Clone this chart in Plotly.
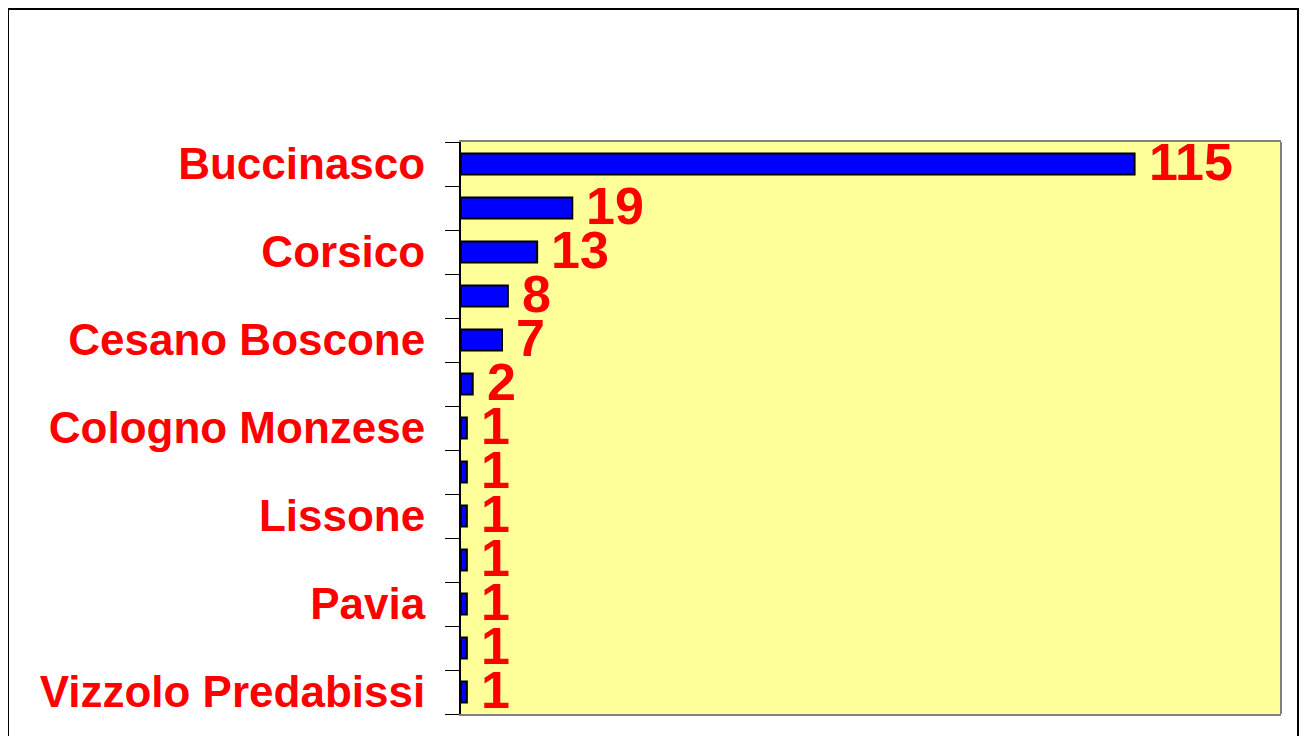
import plotly.graph_objects as go

categories = ["Buccinasco", "", "Corsico", "", "Cesano Boscone", "",
              "Cologno Monzese", "", "Lissone", "", "Pavia", "",
              "Vizzolo Predabissi"]
values = [115, 19, 13, 8, 7, 2, 1, 1, 1, 1, 1, 1, 1]
positions = list(range(len(categories)))
boundaries = [p - 0.5 for p in positions] + [positions[-1] + 0.5]

W, H = 1307, 736
L, T = 453, 134
pw, ph = 820, 572
R, B = W - L - pw, H - T - ph

fig = go.Figure()
fig.add_trace(go.Bar(
    x=values, y=positions, orientation="h",
    marker=dict(color="#0000FF", line=dict(color="#000000", width=2)),
    hoverinfo="x+y",
))

for v, p in zip(values, positions):
    fig.add_annotation(
        x=v, y=p, xref="x", yref="y", text=str(v), showarrow=False,
        xanchor="left", yanchor="middle", xshift=12, yshift=2,
        font=dict(family="Arial, Liberation Sans, sans-serif", size=52,
                  color="#FF0000", weight="bold"),
    )

fig.update_layout(
    width=W, height=H,
    margin=dict(l=L, r=R, t=T, b=B, pad=0),
    paper_bgcolor="#FFFFFF", plot_bgcolor="#FFFF99",
    bargap=0.52, showlegend=False,
    xaxis=dict(range=[0, 140], showgrid=False, zeroline=False,
               showticklabels=False, ticks="",
               showline=True, linecolor="#808080", linewidth=2, mirror=True),
    yaxis=dict(range=[12.5, -0.5], tickmode="array", tickvals=positions,
               ticktext=categories, ticks="", showgrid=False, zeroline=False,
               showline=True, linecolor="#000000", linewidth=2,
               ticklabelstandoff=25,
               tickfont=dict(family="Arial, Liberation Sans, sans-serif",
                             size=44, color="#FF0000", weight="bold"),
               minor=dict(tickmode="array", tickvals=boundaries,
                          ticks="outside", ticklen=14, tickcolor="#000000",
                          tickwidth=1, showgrid=False)),
    shapes=[
        dict(type="line", xref="paper", yref="paper", x0=1, x1=1, y0=0, y1=1,
             line=dict(color="#808080", width=2)),
        dict(type="rect", xref="paper", yref="paper",
             x0=(0 - L) / pw, x1=(1290 - L) / pw,
             y0=-(760 - (T + ph)) / ph, y1=1 + (T - 1) / ph,
             line=dict(color="#000000", width=2), layer="below"),
    ],
)

fig.write_html("out.html")
